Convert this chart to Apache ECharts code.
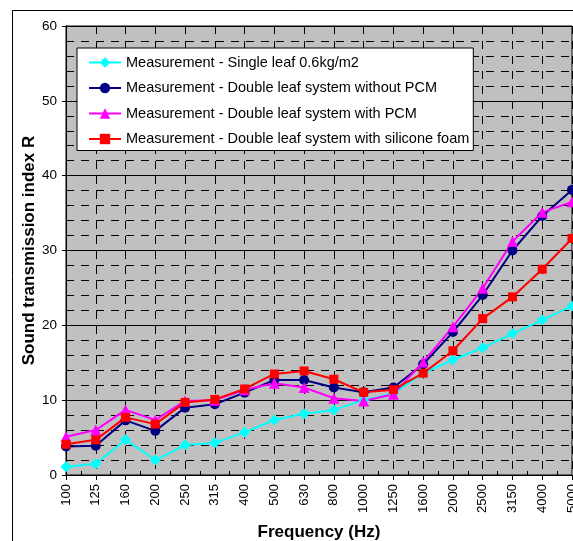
<!DOCTYPE html>
<html>
<head>
<meta charset="utf-8">
<script src="https://cdn.jsdelivr.net/npm/echarts@6/dist/echarts.min.js"></script>
<style>
html,body{margin:0;padding:0;background:#fff;}
#chart{width:573px;height:541px;}
</style>
</head>
<body>
<div id="chart"></div>
<script>
const categories = ['100','125','160','200','250','315','400','500','630','800','1000','1250','1600','2000','2500','3150','4000','5000'];
const singleLeaf = [1.1,1.5,4.7,2.0,4.0,4.3,5.7,7.35,8.2,8.7,10.0,10.9,13.6,15.4,17.0,18.9,20.7,22.6];
const doubleNoPCM = [3.8,3.9,7.3,5.9,9.0,9.45,11.0,12.7,12.7,11.7,11.05,11.7,14.8,19.1,24.05,30.0,34.6,38.1];
const doubleWithPCM = [5.1,6.0,8.7,7.35,9.9,10.0,11.4,12.25,11.7,10.25,9.9,10.8,15.1,19.8,24.95,31.2,35.1,36.5];
const doubleSilicone = [4.1,4.7,7.7,6.8,9.7,10.1,11.5,13.5,13.9,12.8,11.05,11.4,13.6,16.6,20.9,23.8,27.5,31.6];
const seriesNames = [
  'Measurement - Single leaf 0.6kg/m2',
  'Measurement - Double leaf system without PCM',
  'Measurement - Double leaf system with PCM',
  'Measurement - Double leaf system with silicone foam'
];
const yTicksMajor = [0,10,20,30,40,50,60];

// half-step positions for minor x ticks
const halfCats = [];
categories.forEach((c, i) => { halfCats.push(c); if (i < categories.length - 1) halfCats.push(c + '-'); });

const font = 'Liberation Sans, Arial, sans-serif';
const dash = [8, 7];

const chart = echarts.init(document.getElementById('chart'), null, {renderer: 'canvas'});
const mk = (name, data, color, symbol, size) => ({
  name, type: 'line', data, xAxisIndex: 0, yAxisIndex: 0,
  symbol, symbolSize: size, showSymbol: true,
  lineStyle: {color, width: 2},
  itemStyle: {color, borderWidth: 0},
  emphasis: {disabled: true},
  animation: false
});

chart.setOption({
  backgroundColor: '#ffffff',
  animation: false,
  textStyle: {fontFamily: font},
  graphic: [{
    type: 'rect', z: 100, silent: true,
    shape: {x: 12.5, y: 10.5, width: 700, height: 700},
    style: {fill: 'none', stroke: '#000', lineWidth: 1}
  }],
  grid: {
    left: 66, top: 26, right: 1, bottom: 66,
    outerBoundsMode: 'none', containLabel: false,
    show: true, backgroundColor: '#c0c0c0', borderColor: '#000', borderWidth: 1
  },
  legend: {
    orient: 'vertical', left: 77, top: 48,
    backgroundColor: '#ffffff', borderColor: '#000', borderWidth: 1,
    padding: [7, 4, 4, 11],
    itemWidth: 32, itemHeight: 13, itemGap: 10.5,
    textStyle: {fontFamily: font, fontSize: 14.5, color: '#000'},
    data: seriesNames
  },
  xAxis: [{
    type: 'category', data: categories, boundaryGap: false,
    name: 'Frequency (Hz)', nameLocation: 'middle', nameGap: 49, nameMoveOverlap: false,
    nameTextStyle: {fontFamily: font, fontSize: 17, fontWeight: 'bold', color: '#000'},
    axisLine: {show: true, lineStyle: {color: '#000', width: 1}},
    axisTick: {show: true, inside: false, length: 5, alignWithLabel: true, lineStyle: {color: '#000'}},
    axisLabel: {rotate: 90, margin: 9, fontSize: 13, color: '#000', fontFamily: font, interval: 0},
    splitLine: {show: true, interval: 0, lineStyle: {color: '#000', width: 1, type: dash}}
  }, {
    type: 'category', data: halfCats, boundaryGap: false, position: 'bottom',
    axisLine: {show: false},
    axisTick: {show: true, inside: true, length: 4, interval: (i) => i % 2 === 1, lineStyle: {color: '#000'}},
    axisLabel: {show: false},
    splitLine: {show: false}
  }],
  yAxis: [{
    type: 'value', min: 0, max: 60, interval: 2,
    axisLine: {show: true, lineStyle: {color: '#000'}},
    axisTick: {show: true, inside: true, length: 5, lineStyle: {color: '#000'}},
    axisLabel: {show: false},
    splitLine: {show: true, lineStyle: {color: '#000', width: 1, type: dash}}
  }, {
    type: 'value', min: 0, max: 60, interval: 10, position: 'left',
    name: 'Sound transmission index R', nameLocation: 'middle', nameGap: 28, nameMoveOverlap: false,
    nameTextStyle: {fontFamily: font, fontSize: 17, fontWeight: 'bold', color: '#000'},
    axisLine: {show: true, lineStyle: {color: '#000'}},
    axisTick: {show: true, inside: false, length: 4, lineStyle: {color: '#000'}},
    axisLabel: {margin: 9, fontSize: 13.5, color: '#000', fontFamily: font,
      formatter: (v) => yTicksMajor.includes(v) ? String(v) : ''},
    splitLine: {show: true, lineStyle: {color: '#000', width: 1, type: 'solid'}}
  }],
  series: [
    mk(seriesNames[0], singleLeaf, '#00ffff', 'diamond', 11),
    mk(seriesNames[1], doubleNoPCM, '#000080', 'circle', 10),
    mk(seriesNames[2], doubleWithPCM, '#ff00ff', 'triangle', 11),
    mk(seriesNames[3], doubleSilicone, '#ff0000', 'rect', 9)
  ]
});
</script>
</body>
</html>
